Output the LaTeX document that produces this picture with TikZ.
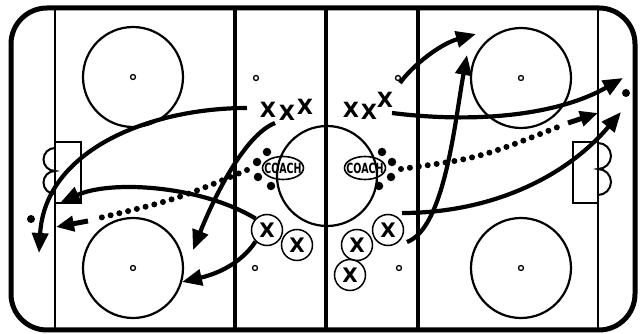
\documentclass[tikz,border=0pt]{standalone}
\usepackage{fontspec}
\setmainfont{DejaVu Sans}
\usetikzlibrary{arrows.meta,shapes.geometric}

\begin{document}
\begin{tikzpicture}[x=1pt, y=-1pt,
  board/.style={line width=5pt},
  goalline/.style={line width=2pt},
  blueline/.style={line width=4.5pt},
  faceoff/.style={line width=2.2pt},
  spot/.style={line width=1.3pt},
  skate/.style={line width=4.2pt, -{Triangle[length=20pt,width=16pt]}},
  pass/.style={line width=6pt, line cap=round, dash pattern=on 0pt off 9pt},
  passhead/.style={line width=5pt, -{Triangle[length=18pt,width=15pt]}},
  skater/.style={inner sep=0pt, font=\bfseries\fontsize{21}{21}\selectfont},
  player/.style={circle, draw, line width=1.5pt, minimum size=31pt, inner sep=0pt, font=\bfseries\fontsize{20}{20}\selectfont},
  coach/.style={ellipse, draw, line width=1.6pt, minimum width=41pt, minimum height=23pt, inner sep=0pt},
  coachtext/.style={inner sep=0pt, font=\bfseries\fontsize{14}{14}\selectfont},
  puck/.style={circle, fill, inner sep=0pt, minimum size=8.5pt}]
\path (0,0) rectangle (641,334);
\draw[board, rounded corners=36pt] (11,8) rectangle (635,330);
\draw[goalline] (55,8) -- (55,330);
\draw[goalline] (598,8) -- (598,330);
\draw[blueline] (235,8) -- (235,330);
\draw[blueline] (418,8) -- (418,330);
\draw[blueline] (326,8) -- (326,330);
\draw[faceoff] (133,77) circle (50);
\draw[faceoff] (133,268) circle (50);
\draw[faceoff] (521,78) circle (50);
\draw[faceoff] (521,268) circle (50);
\draw[faceoff] (327,176) circle (50);
\draw[spot] (133,77) circle (2.5);
\draw[spot] (133,268) circle (2.5);
\draw[spot] (521,78) circle (2.5);
\draw[spot] (521,268) circle (2.5);
\draw[spot] (256,78) circle (2.5);
\draw[spot] (255,268) circle (2.5);
\draw[spot] (398,78) circle (2.5);
\draw[spot] (399,268) circle (2.5);
\draw[goalline] (55,142) rectangle (81,203);
\draw[goalline] (55,148) arc[start angle=270, end angle=90, radius=11.5] arc[start angle=270, end angle=90, radius=11.5];
\draw[goalline] (573,142) rectangle (598,203);
\draw[goalline] (598,143) arc[start angle=270, end angle=450, radius=13] arc[start angle=270, end angle=450, radius=13];
\fill (31,219) circle (4);
\fill (626,93) circle (4);

\node[coach, label={[coachtext]center:\scalebox{0.68}[1]{COACH}}] (lcoach) at (283,168) {};
\node[coach, label={[coachtext]center:\scalebox{0.68}[1]{COACH}}] (rcoach) at (365,168) {};
\node[puck] (lpuck1) at (267,152) {};
\node[puck] (lpuck2) at (257,162) {};
\node[puck] (lpuck3) at (258,177) {};
\node[puck] (lpuck4) at (271,186) {};
\node[puck] (rpuck1) at (382,152) {};
\node[puck] (rpuck2) at (392,162) {};
\node[puck] (rpuck3) at (391,177) {};
\node[puck] (rpuck4) at (379,186) {};

\node[skater] (lx1) at (268,110) {X};
\node[skater] (lx2) at (287,113) {X};
\node[skater] (lx3) at (305,107) {X};
\node[skater] (rx1) at (351,110) {X};
\node[skater] (rx2) at (369,112) {X};
\node[skater] (rx3) at (385,100) {X};
\node[player] (lp1) at (267,230) {X};
\node[player] (lp2) at (297,245) {X};
\node[player] (rp1) at (388,230) {X};
\node[player] (rp2) at (357,245) {X};
\node[player] (rp3) at (350,275) {X};

\coordinate (a1) at (247,108);
\coordinate (a2) at (39,253);
\coordinate (b1) at (275,123);
\coordinate (b2) at (193,250);
\coordinate (c2) at (60,203);
\coordinate (d2) at (182,282);
\coordinate (e1) at (400,83);
\coordinate (e2) at (476,34);
\coordinate (f1) at (392,113);
\coordinate (f2) at (623,78);
\coordinate (g1) at (402,213);
\coordinate (g2) at (621,112);
\coordinate (h1) at (407,242);
\coordinate (h2) at (467,55);
\draw[skate] (a1) .. controls (150,108) and (45,150) .. (a2);
\draw[skate] (b1) .. controls (245,135) and (215,195) .. (b2);
\draw[skate] (lp1.north west) .. controls (200,185) and (110,180) .. (c2);
\draw[skate] (lp1.south west) .. controls (245,258) and (225,272) .. (d2);
\draw[skate] (e1) .. controls (412,66) and (440,44) .. (e2);
\draw[skate] (f1) .. controls (480,124) and (560,114) .. (f2);
\draw[skate] (g1) .. controls (490,213) and (565,178) .. (g2);
\draw[skate] (h1) .. controls (445,228) and (455,120) .. (h2);

\coordinate (lpass1) at (247,170);
\coordinate (lpass2) at (95,219);
\coordinate (lpass3) at (88,221);
\coordinate (lpass4) at (56,227);
\coordinate (rpass1) at (401,169);
\coordinate (rpass2) at (563,125);
\coordinate (rpass3) at (568,123);
\coordinate (rpass4) at (598,113);
\draw[pass] (lpass1) .. controls (175,200) .. (lpass2);
\draw[passhead] (lpass3) -- (lpass4);
\draw[pass] (rpass1) .. controls (480,158) .. (rpass2);
\draw[passhead] (rpass3) -- (rpass4);
\end{tikzpicture}
\end{document}
